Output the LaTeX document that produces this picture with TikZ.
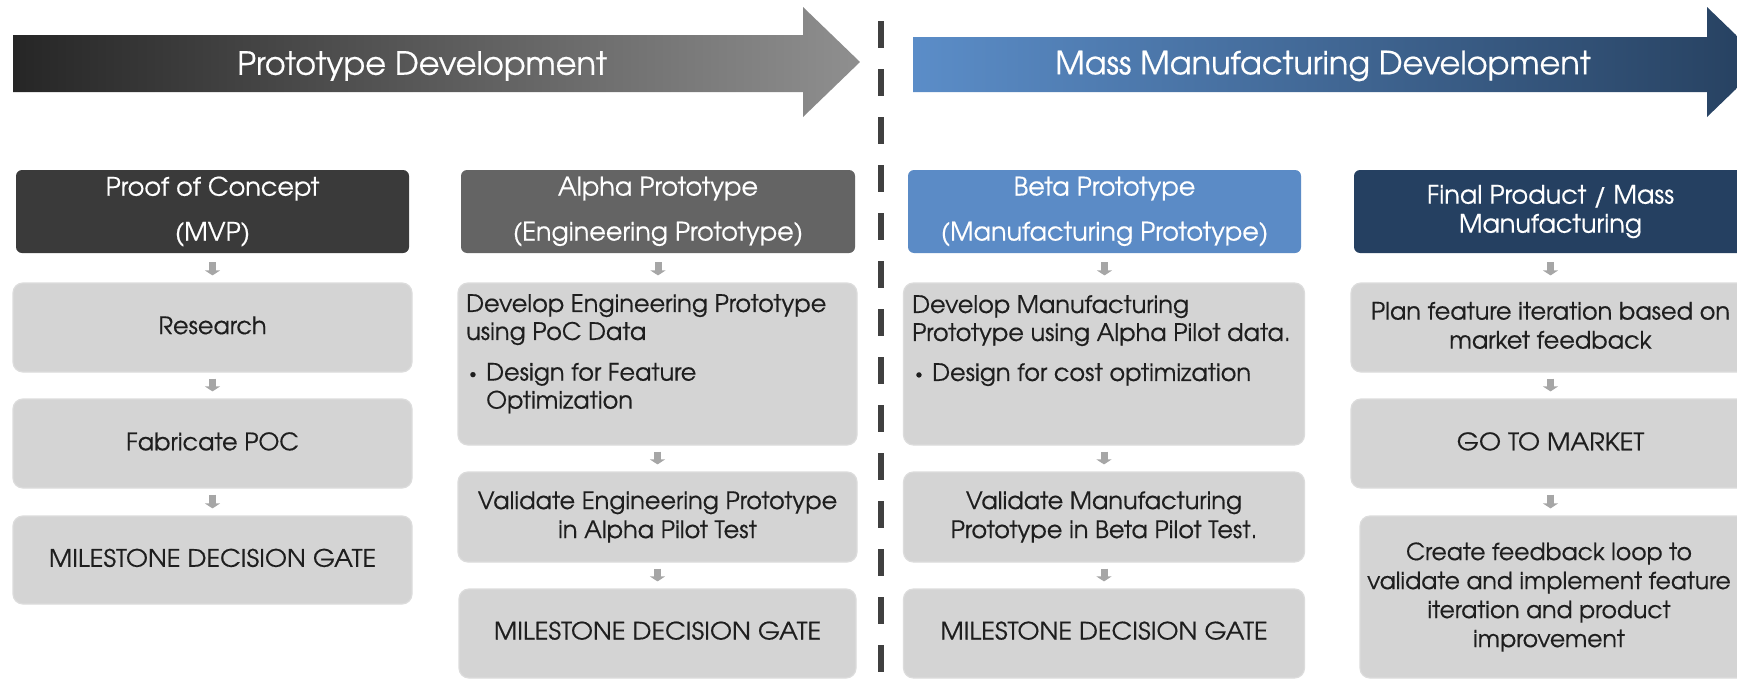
\documentclass[tikz,border=0pt]{standalone}
\usepackage{graphicx}
\usepackage{fontspec}
\setmainfont{texgyreadventor-regular.otf}[FakeBold=0.5]
\usetikzlibrary{arrows.meta}
\definecolor{gA}{HTML}{262626}
\definecolor{gB}{HTML}{8F8F8F}
\definecolor{bA}{HTML}{5B8DC8}
\definecolor{bB}{HTML}{26405F}
\definecolor{hA}{HTML}{3A3A3A}
\definecolor{hB}{HTML}{646464}
\definecolor{hC}{HTML}{5B8BC6}
\definecolor{hD}{HTML}{254061}
\definecolor{boxgray}{HTML}{D4D4D4}
\definecolor{boxedge}{HTML}{DCDCDC}
\definecolor{arrgray}{HTML}{A6A6A6}
\definecolor{dashgray}{HTML}{404040}
\definecolor{txt}{HTML}{1E1E1E}
\newcommand\bul{\raisebox{0.1em}{\scalebox{0.6}{•}}}
\newcommand\wcaps[1]{\scalebox{1.06}[1]{#1}}
\begin{document}
\begin{tikzpicture}[x=1pt,y=-1pt,
  hdr/.style={rectangle, rounded corners=6pt, inner sep=0pt, text=white,
    font=\fontsize{25.5}{30}\selectfont, align=center, minimum height=83pt},
  stepbox/.style={rectangle, rounded corners=10pt, fill=boxgray, draw=boxedge,
    line width=1.2pt, inner sep=0pt, text=txt,
    font=\fontsize{24}{29}\selectfont, align=center},
  liftup/.style={text depth=4.5pt},
  bodytxt/.style={inner sep=0pt, text=txt, font=\fontsize{24}{28}\selectfont,
    align=left, anchor=north west},
  bantxt/.style={inner sep=0pt, text=white, font=\fontsize{32}{38}\selectfont},
  flow/.style={draw=arrgray, line width=7pt, -{Triangle[width=15pt,length=5pt]},
    shorten <=6pt, shorten >=7pt},
  flowh/.style={flow, shorten <=9pt}
]
\useasboundingbox (0,0) rectangle (1737,688);
\fill[white] (0,0) rectangle (1737,688);
\clip (0,0) rectangle (1737,688);

% banners
\shade[left color=gA, right color=gB]
  (13,35) -- (803,35) -- (803,7) -- (860,62) -- (803,117) -- (803,92) -- (13,92) -- cycle;
\shade[left color=bA, right color=bB]
  (913,37) -- (1707,37) -- (1707,7) -- (1764,62) -- (1707,117) -- (1707,92) -- (913,92) -- cycle;
\node[bantxt] (pd) at (422,66) {Prototype Development};
\node[bantxt] (mmd) at (1323,66) {Mass Manufacturing Development};

% divider
\draw[line width=6.5pt, dashgray, dash pattern=on 27pt off 21pt] (881,21) -- (881,688);

% column 1
\node[hdr, fill=hA, minimum width=393pt] (h1) at (212.5,211.5) {Proof of Concept\\[15pt](MVP)};
\node[stepbox, liftup, minimum width=399pt, minimum height=89pt] (b11) at (212.5,327.5) {Research};
\node[stepbox, liftup, minimum width=399pt, minimum height=89pt] (b12) at (212.5,443.5) {Fabricate POC};
\node[stepbox, liftup, minimum width=399pt, minimum height=88pt] (b13) at (212.5,560) {\wcaps{MILESTONE DECISION GATE}};

% column 2
\node[hdr, fill=hB, minimum width=394pt] (h2) at (658,211.5) {Alpha Prototype\\[15pt](Engineering Prototype)};
\node[stepbox, minimum width=399pt, minimum height=162pt] (b21) at (657.5,364) {};
\node[bodytxt] (t21) at (466,294) {Develop Engineering Prototype\\using PoC Data\\[12.7pt]\hspace*{3pt}\makebox[17pt][l]{\bul}Design for Feature\\\hspace*{20pt}Optimization};
\node[stepbox, minimum width=399pt, minimum height=90pt] (b22) at (657.5,517) {Validate Engineering Prototype\\in Alpha Pilot Test};
\node[stepbox, liftup, text depth=6pt, minimum width=397pt, minimum height=89pt] (b23) at (657.5,633.5) {\wcaps{MILESTONE DECISION GATE}};

% column 3
\node[hdr, fill=hC, minimum width=393pt] (h3) at (1104.5,211.5) {Beta Prototype\\[15pt](Manufacturing Prototype)};
\node[stepbox, minimum width=401pt, minimum height=162pt] (b31) at (1104,364) {};
\node[bodytxt] (t31) at (912,295) {Develop Manufacturing\\Prototype using Alpha Pilot data.\\[12pt]\hspace*{3pt}\makebox[17pt][l]{\bul}Design for cost optimization};
\node[stepbox, minimum width=401pt, minimum height=90pt] (b32) at (1104,517) {Validate Manufacturing\\Prototype in Beta Pilot Test.};
\node[stepbox, liftup, text depth=6pt, minimum width=401pt, minimum height=89pt] (b33) at (1104,633.5) {\wcaps{MILESTONE DECISION GATE}};

% column 4
\node[hdr, fill=hD, minimum width=393pt, font=\fontsize{25.5}{29}\selectfont] (h4) at (1550.5,211.5) {Final Product / Mass\\Manufacturing};
\node[stepbox, liftup, minimum width=399pt, minimum height=89pt] (b41) at (1550.5,327.5) {Plan feature iteration based on\\market feedback};
\node[stepbox, liftup, minimum width=399pt, minimum height=89pt] (b42) at (1550.5,443.5) {\wcaps{GO TO MARKET}};
\node[stepbox, minimum width=390pt, minimum height=162pt] (b43) at (1555,597) {};
\node[inner sep=0pt, text=txt, align=center, font=\fontsize{23.5}{29}\selectfont] (t43) at (1549,597) {Create feedback loop to\\validate and implement feature\\iteration and product\\improvement};

% flow arrows
\draw[flowh] (h1) -- (b11);
\draw[flow] (b11) -- (b12);
\draw[flow] (b12) -- (b13);
\draw[flowh] (h2.south) -- (h2.south |- b21.north);
\draw[flow] (b21) -- (b22);
\draw[flow] (b22) -- (b23);
\draw[flowh] (h3.south) -- (h3.south |- b31.north);
\draw[flow] (b31) -- (b32);
\draw[flow] (b32) -- (b33);
\draw[flowh] (h4) -- (b41);
\draw[flow] (b41) -- (b42);
\draw[flow] (b42.south) -- (b42.south |- b43.north);
\end{tikzpicture}
\end{document}
